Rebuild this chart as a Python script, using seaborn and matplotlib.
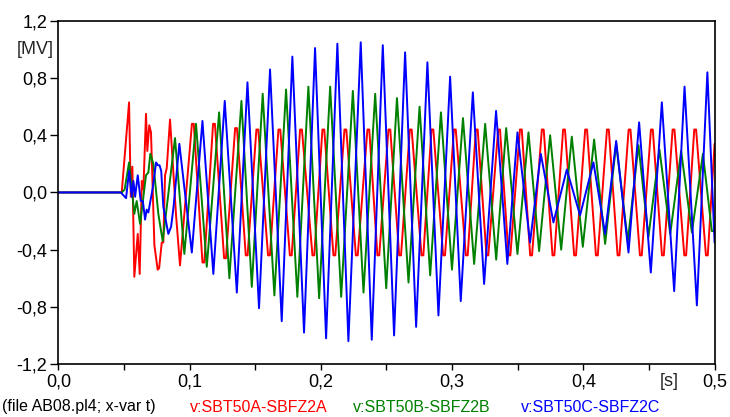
import numpy as np
import matplotlib
matplotlib.use("Agg")
import matplotlib.pyplot as plt
import seaborn as sns
import pandas as pd

# points of each trace (time in s, voltage in MV)
# red has short flat tops, so each of its later peaks is stored as a start/end pair
red_t = [0.0, 0.0483, 0.0539, 0.0552, 0.0564, 0.0579, 0.0605, 0.0620, 0.0636, 0.0648,
         0.0668, 0.0678, 0.0693, 0.0706, 0.0732, 0.0757, 0.0768, 0.0788, 0.0800, 0.0813,
         0.0826, 0.0851, 0.0897, 0.0927,
         0.1018, 0.1032, 0.1098, 0.1112, 0.1179, 0.1193, 0.1263, 0.1277, 0.1347, 0.1361,
         0.1428, 0.1442, 0.1509, 0.1523, 0.1598, 0.1612, 0.1677, 0.1691, 0.1764, 0.1778,
         0.1842, 0.1856, 0.1936, 0.1950, 0.2012, 0.2026, 0.2096, 0.2110, 0.2180, 0.2194,
         0.2267, 0.2281, 0.2355, 0.2369, 0.2431, 0.2445, 0.2515, 0.2529, 0.2597, 0.2611,
         0.2678, 0.2692, 0.2767, 0.2781, 0.2843, 0.2857, 0.2932, 0.2946, 0.3014, 0.3028,
         0.3105, 0.3119, 0.3181, 0.3195, 0.3262, 0.3276, 0.3351, 0.3365, 0.3430, 0.3444,
         0.3517, 0.3531, 0.3595, 0.3609, 0.3684, 0.3698, 0.3765, 0.3779, 0.3846, 0.3860,
         0.3930, 0.3944, 0.4014, 0.4028, 0.4096, 0.4110, 0.4180, 0.4194, 0.4261, 0.4275,
         0.4345, 0.4359, 0.4431, 0.4445, 0.4515, 0.4529, 0.4599, 0.4613, 0.4680, 0.4694,
         0.4769, 0.4783, 0.4845, 0.4859, 0.4934, 0.4948, 0.5]
red_v = [0.0, 0.0, 0.63, -0.03, 0.18, -0.59, -0.29, -0.57, 0.08, 0.02,
         0.55, 0.29, 0.47, 0.42, -0.37, -0.54, -0.53, -0.35, -0.35, 0.12,
         0.17, 0.51, -0.16, -0.51,
         0.48, 0.48, -0.49, -0.49, 0.48, 0.48, -0.46, -0.46, 0.45, 0.45,
         -0.44, -0.44, 0.44, 0.44, -0.44, -0.44, 0.44, 0.44, -0.44, -0.44,
         0.44, 0.44, -0.44, -0.44, 0.44, 0.44, -0.44, -0.44, 0.44, 0.44,
         -0.44, -0.44, 0.44, 0.44, -0.44, -0.44, 0.44, 0.44, -0.44, -0.44,
         0.44, 0.44, -0.44, -0.44, 0.44, 0.44, -0.44, -0.44, 0.44, 0.44,
         -0.44, -0.44, 0.44, 0.44, -0.44, -0.44, 0.44, 0.44, -0.44, -0.44,
         0.44, 0.44, -0.44, -0.44, 0.44, 0.44, -0.44, -0.44, 0.44, 0.44,
         -0.44, -0.44, 0.44, 0.44, -0.44, -0.44, 0.44, 0.44, -0.44, -0.44,
         0.44, 0.44, -0.44, -0.44, 0.44, 0.44, -0.44, -0.44, 0.44, 0.44,
         -0.44, -0.44, 0.44, 0.44, -0.44, -0.44, 0.34]

green_t = [0.0, 0.0483, 0.0505, 0.0539, 0.0579, 0.0597, 0.0623, 0.0668, 0.0686, 0.0701,
           0.0724, 0.0762, 0.0795, 0.0889, 0.0960, 0.1049, 0.1131, 0.1225, 0.1303, 0.1395,
           0.1474, 0.1557, 0.1646, 0.1735, 0.1821, 0.1905, 0.1987, 0.2071, 0.2155, 0.2244,
           0.2325, 0.2414, 0.2498, 0.2580, 0.2668, 0.2752, 0.2833, 0.2915, 0.2999, 0.3083,
           0.3168, 0.3252, 0.3336, 0.3412, 0.3498, 0.3582, 0.3663, 0.3747, 0.3831, 0.3912,
           0.3996, 0.4082, 0.4166, 0.4250, 0.4339, 0.4420, 0.4496, 0.4580, 0.4662, 0.4745,
           0.4827, 0.4911, 0.4979, 0.5]
green_v = [0.0, 0.0, 0.02, 0.21, -0.15, -0.06, -0.22, 0.12, 0.14, 0.27,
           0.20, -0.15, -0.34, 0.38, -0.43, 0.48, -0.52, 0.56, -0.60, 0.64,
           -0.66, 0.69, -0.72, 0.72, -0.73, 0.74, -0.74, 0.74, -0.73, 0.71,
           -0.70, 0.69, -0.67, 0.66, -0.63, 0.60, -0.58, 0.56, -0.54, 0.52,
           -0.50, 0.48, -0.47, 0.45, -0.43, 0.42, -0.41, 0.40, -0.40, 0.39,
           -0.38, 0.37, -0.36, 0.34, -0.34, 0.33, -0.31, 0.30, -0.29, 0.29,
           -0.28, 0.27, -0.27, -0.27]

blue_t = [0.0, 0.0476, 0.0516, 0.0539, 0.0559, 0.0572, 0.0585, 0.0605, 0.0628, 0.0644,
          0.0661, 0.0673, 0.0686, 0.0719, 0.0745, 0.0758, 0.0771, 0.0784, 0.0800, 0.0838,
          0.0859, 0.0878, 0.0922, 0.1017, 0.1098, 0.1181, 0.1268, 0.1360, 0.1441, 0.1529,
          0.1613, 0.1702, 0.1783, 0.1872, 0.1956, 0.2040, 0.2126, 0.2210, 0.2304, 0.2388,
          0.2472, 0.2558, 0.2642, 0.2726, 0.2812, 0.2896, 0.2985, 0.3066, 0.3158, 0.3244,
          0.3335, 0.3421, 0.3498, 0.3594, 0.3676, 0.3772, 0.3874, 0.3975, 0.4077, 0.4166,
          0.4250, 0.4344, 0.4425, 0.4514, 0.4598, 0.4692, 0.4771, 0.4865, 0.4945, 0.5]
blue_v = [0.0, 0.0, -0.04, 0.15, -0.03, 0.08, -0.03, 0.12, -0.06, -0.06,
          -0.19, -0.12, -0.14, 0.03, 0.21, 0.19, 0.19, 0.15, -0.10, -0.29,
          -0.24, -0.10, 0.34, -0.42, 0.50, -0.57, 0.64, -0.70, 0.77, -0.81,
          0.86, -0.90, 0.95, -0.98, 1.01, -1.02, 1.04, -1.04, 1.05, -1.03,
          1.03, -1.00, 0.98, -0.94, 0.91, -0.86, 0.81, -0.76, 0.70, -0.64,
          0.57, -0.50, 0.42, -0.35, 0.27, -0.21, 0.16, -0.16, 0.21, -0.29,
          0.36, -0.42, 0.49, -0.56, 0.63, -0.69, 0.74, -0.79, 0.84, -0.35]

names = ["v:SBT50A-SBFZ2A", "v:SBT50B-SBFZ2B", "v:SBT50C-SBFZ2C"]
colors = ["#ff0000", "#008000", "#0000ff"]

x_ticks = [0.0, 0.1, 0.2, 0.3, 0.4, 0.5]
x_labels = ["0,0", "0,1", "0,2", "0,3", "0,4", "0,5"]
x_minor = [0.05, 0.15, 0.25, 0.35, 0.45]
y_ticks = [-1.2, -0.8, -0.4, 0.0, 0.4, 0.8, 1.2]
y_labels = ["-1,2", "-0,8", "-0,4", "0,0", "0,4", "0,8", "1,2"]

df = pd.concat([
    pd.DataFrame({"t": red_t, "v": red_v, "trace": names[0]}),
    pd.DataFrame({"t": green_t, "v": green_v, "trace": names[1]}),
    pd.DataFrame({"t": blue_t, "v": blue_v, "trace": names[2]}),
], ignore_index=True)

sns.set_theme(style="ticks")
plt.rcParams["font.family"] = ["Liberation Sans", "DejaVu Sans"]

fig = plt.figure(figsize=(7.3, 4.17), dpi=100)
ax = fig.add_axes([0.0799, 0.127, 0.899, 0.823])

sns.lineplot(data=df, x="t", y="v", hue="trace", hue_order=names,
             palette=colors, estimator=None, sort=False, legend=False,
             linewidth=1.4, ax=ax)

ax.set_xlim(0, 0.5)
ax.set_ylim(-1.2, 1.2)
ax.set_xticks(x_ticks)
ax.set_xticklabels(x_labels)
ax.set_xticks(x_minor, minor=True)
ax.set_yticks(y_ticks)
ax.set_yticklabels(y_labels)
ax.set_xlabel("")
ax.set_ylabel("")
ax.tick_params(axis="both", which="both", direction="out", color="black",
               labelsize=13, labelcolor="black")
ax.tick_params(axis="x", which="both", length=4, width=1, pad=3)
ax.tick_params(axis="y", length=6, width=1, pad=2)
for s in ax.spines.values():
    s.set_color("black")
    s.set_linewidth(1.2)

fig.text(35 / 730, 1 - 49 / 417, "[MV]", fontsize=13, ha="center", va="center")
fig.text(669 / 730, 1 - 381 / 417, "[s]", fontsize=13, ha="center", va="center")

fy = 1 - 407 / 417
fig.text(2 / 730, fy, "(file AB08.pl4; x-var t)", fontsize=11.5, color="black", va="center")
fig.text(190 / 730, fy, names[0], fontsize=11.5, color=colors[0], va="center")
fig.text(353 / 730, fy, names[1], fontsize=11.5, color=colors[1], va="center")
fig.text(521 / 730, fy, names[2], fontsize=11.5, color=colors[2], va="center")

fig.savefig("out.png", dpi=100)
